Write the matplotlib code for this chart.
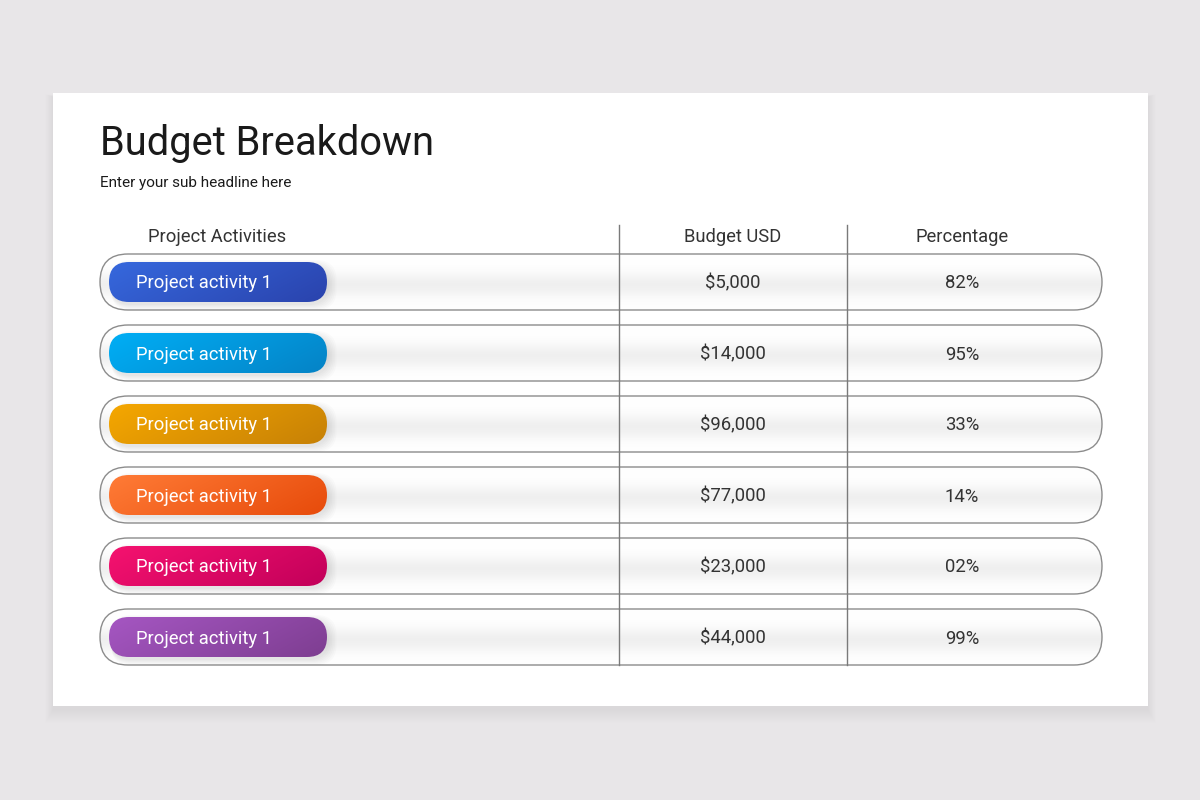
import numpy as np
import matplotlib
matplotlib.use("Agg")
import matplotlib.pyplot as plt
from matplotlib.patches import FancyBboxPatch, Rectangle
from matplotlib.colors import to_rgb

plt.rcParams["font.family"] = ["Roboto", "DejaVu Sans"]

# chart content
title = "Budget Breakdown"
subtitle = "Enter your sub headline here"
headers = ["Project Activities", "Budget USD", "Percentage"]
activities = ["Project activity 1"] * 6
budgets = ["$5,000", "$14,000", "$96,000", "$77,000", "$23,000", "$44,000"]
percentages = ["82%", "95%", "33%", "14%", "02%", "99%"]
colors_start = ["#3668dd", "#00aef5", "#f5a700", "#ff7b36", "#f5126f", "#a556c2"]
colors_end = ["#2a43ad", "#0583c6", "#c78106", "#e74b0b", "#c3005a", "#7e3e91"]


def gradient_patch(ax, patch, img, extent, z):
    ax.add_patch(patch)
    im = ax.imshow(img, extent=extent, origin="upper", interpolation="bilinear",
                   zorder=z, aspect="auto")
    im.set_clip_path(patch)


fig = plt.figure(figsize=(12, 8), dpi=100)
fig.patch.set_facecolor("#e8e6e8")
ax = fig.add_axes([0, 0, 1, 1])
ax.set_xlim(0, 1200)
ax.set_ylim(800, 0)
ax.set_aspect("equal")
ax.axis("off")

# card with soft shadow
for k in range(14):
    ax.add_patch(Rectangle((53 - k * 0.6, 93 - k * 0.2 + 4), 1095 + k * 1.2, 613 + k * 1.2,
                           facecolor="#000000", alpha=0.004, lw=0, zorder=1))
ax.add_patch(Rectangle((53, 93), 1095, 613, facecolor="white", lw=0, zorder=2))

ax.text(100, 155, title, fontsize=28.7, color="#1a1a1a", va="baseline", ha="left", zorder=5)
ax.text(100, 187, subtitle, fontsize=11, color="#1a1a1a", va="baseline", ha="left", zorder=5)

# column headers
hy = 242
ax.text(217, hy, headers[0], fontsize=13.2, color="#333333", ha="center", va="baseline", zorder=5)
ax.text(733, hy, headers[1], fontsize=13.2, color="#333333", ha="center", va="baseline", zorder=5)
ax.text(962, hy, headers[2], fontsize=13.2, color="#333333", ha="center", va="baseline", zorder=5)

# vertical gradient for the row pills
t = np.linspace(0, 1, 64)
shade = 1 - 0.06 * np.exp(-((t - 0.55) / 0.22) ** 2)
row_img = np.repeat(shade[:, None, None], 4, axis=1) * np.ones((1, 4, 3))

row_top0, row_h, row_step = 254, 56, 71
for i in range(len(activities)):
    top = row_top0 + i * row_step
    cy = top + row_h / 2

    row = FancyBboxPatch((100, top), 1002, row_h,
                         boxstyle="round,pad=0,rounding_size=28",
                         facecolor="none", edgecolor="#8c8c8c", lw=1.0, zorder=4)
    fill = FancyBboxPatch((100, top), 1002, row_h,
                          boxstyle="round,pad=0,rounding_size=28",
                          facecolor="white", edgecolor="none", zorder=3)
    gradient_patch(ax, fill, row_img, (100, 1102, top + row_h, top), 3.1)
    ax.add_patch(row)

    # shadow of the colored pill
    for k in range(6):
        ax.add_patch(FancyBboxPatch((109 + 2, cy - 20 + 3 - k), 218 + k * 1.5, 40 + k * 2,
                                    boxstyle="round,pad=0,rounding_size=20",
                                    facecolor="#000000", alpha=0.015, lw=0, zorder=4.2))

    # colored pill with diagonal gradient
    c1 = np.array(to_rgb(colors_start[i]))
    c2 = np.array(to_rgb(colors_end[i]))
    gx, gy = np.meshgrid(np.linspace(0, 1, 80), np.linspace(0, 1, 20))
    w = np.clip(0.75 * gx + 0.25 * gy, 0, 1)[..., None]
    pill_img = c1 * (1 - w) + c2 * w
    pill = FancyBboxPatch((109, cy - 20), 218, 40,
                          boxstyle="round,pad=0,rounding_size=20",
                          facecolor="none", edgecolor="none", zorder=4.5)
    gradient_patch(ax, pill, pill_img, (109, 327, cy + 20, cy - 20), 4.6)

    by = cy + 6.5
    ax.text(136, by, activities[i], fontsize=13.2, color="white", ha="left", va="baseline", zorder=6)
    ax.text(733, by, budgets[i], fontsize=13.3, color="#333333", ha="center", va="baseline", zorder=6)
    ax.text(962, by, percentages[i], fontsize=13.3, color="#333333", ha="center", va="baseline", zorder=6)

# column dividers
for x in (619, 847):
    ax.plot([x, x], [225, 665], color="#7a7a7a", lw=1.0, zorder=5)

fig.savefig("out.png", dpi=100, facecolor=fig.get_facecolor())
